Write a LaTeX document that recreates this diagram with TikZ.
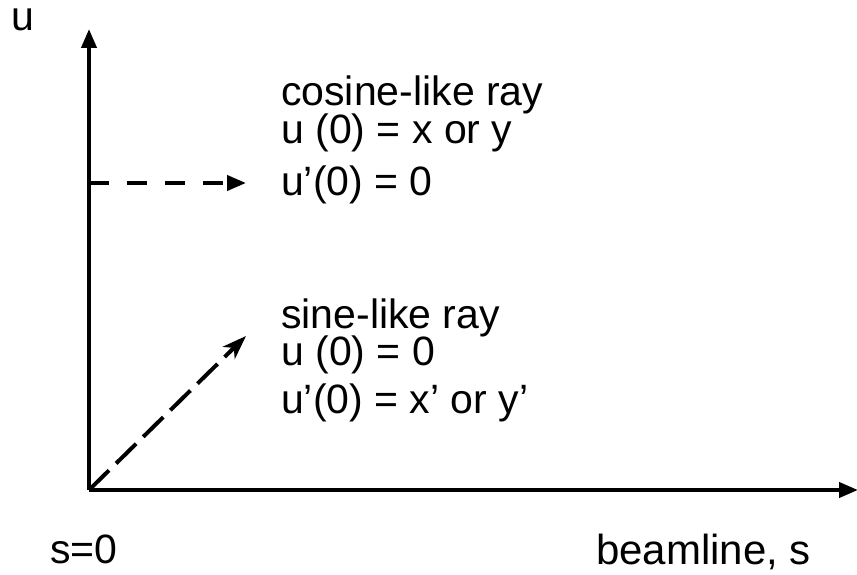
\documentclass[tikz,border=0pt]{standalone}
\usepackage{fontspec}
\setmainfont{Liberation Sans}
\usetikzlibrary{arrows.meta}
\begin{document}
\begin{tikzpicture}[x=1pt,y=-1pt,
  lbl/.style={anchor=base west,inner sep=0pt,font=\fontsize{41}{45}\selectfont},
  axis/.style={line width=4pt,-{Triangle[length=19pt,width=15pt]}},
  ray/.style={line width=4pt}]
\useasboundingbox (0,0) rectangle (857,575);
\coordinate (O) at (89,490);
\coordinate (Ytip) at (89,29);
\coordinate (Xtip) at (858,490);
\coordinate (C0) at (89,183);
\coordinate (Ctip) at (246,183);
\coordinate (Stip) at (246,336);
\draw[axis] (O) -- (Ytip);
\draw[axis] (O) -- (Xtip);
\draw[ray,dash pattern=on 20pt off 18pt,-{Triangle[length=19pt,width=15pt]}] (C0) -- (Ctip);
\draw[ray,dash pattern=on 28pt off 10pt,-{Stealth[length=24pt,width=17pt,inset=7pt]}] (O) -- (Stip);
\node[lbl,text height=22pt] (u) at (11,31) {u};
\node[lbl] (c1) at (281,106) {cosine-like ray};
\node[lbl] (c2) at (281,144) {u (0) = x or y};
\node[lbl] (c3) at (281,195) {u’(0) = 0};
\node[lbl] (s1) at (281,328) {sine-like ray};
\node[lbl] (s2) at (281,365) {u (0) = 0};
\node[lbl] (s3) at (281,413) {u’(0) = x’ or y’};
\node[lbl] (s0) at (50,563) {s=0};
\node[lbl,font=\fontsize{42}{46}\selectfont] (bl) at (596,564) {beamline, s};
\end{tikzpicture}
\end{document}
